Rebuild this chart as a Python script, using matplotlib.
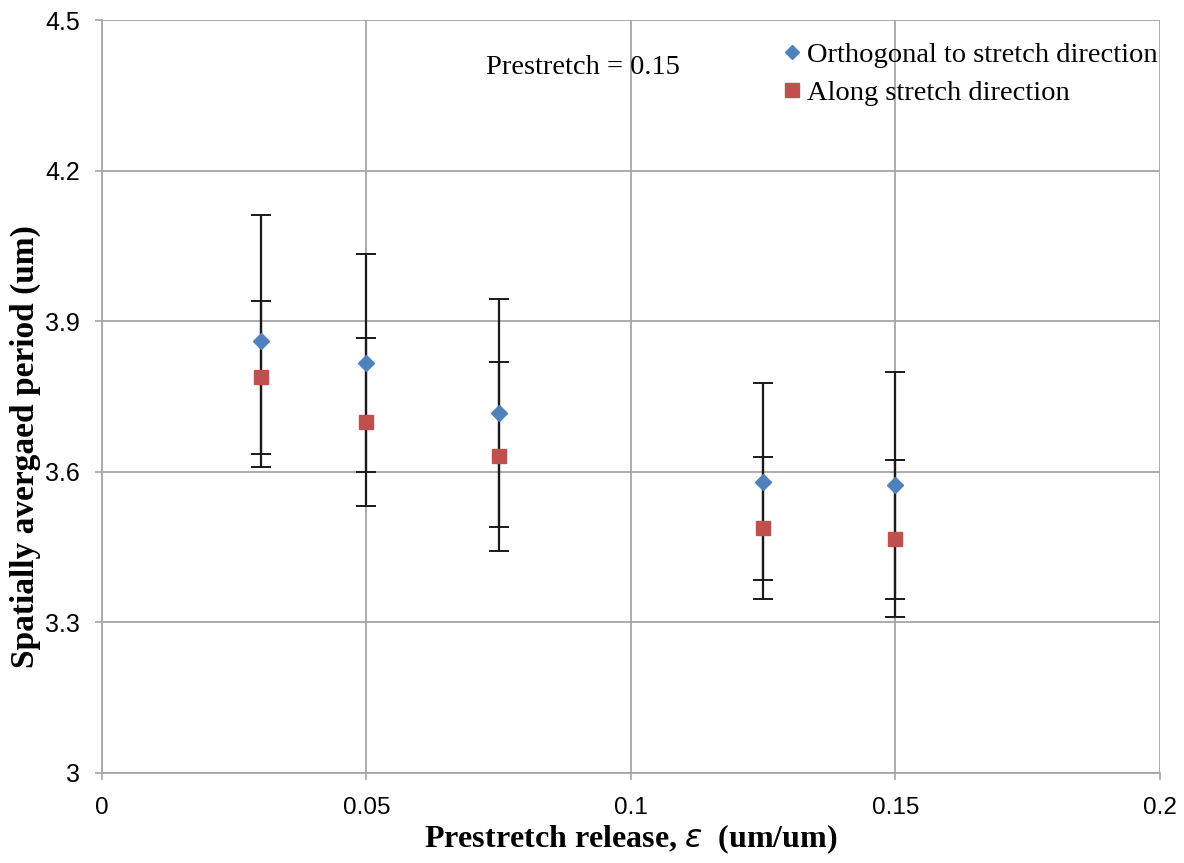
import matplotlib.pyplot as plt
from matplotlib.lines import Line2D

# prestretch release values (um/um)
release = [0.03, 0.05, 0.075, 0.125, 0.15]

# orthogonal to stretch direction
ortho_mean = [3.861, 3.816, 3.717, 3.580, 3.573]
ortho_err = [0.251, 0.217, 0.227, 0.196, 0.226]

# along stretch direction
along_mean = [3.788, 3.699, 3.631, 3.488, 3.467]
along_err = [0.153, 0.168, 0.188, 0.142, 0.156]

xticks = [0, 0.05, 0.1, 0.15, 0.2]
xtick_labels = ['0', '0.05', '0.1', '0.15', '0.2']
yticks = [3.0, 3.3, 3.6, 3.9, 4.2, 4.5]
ytick_labels = ['3', '3.3', '3.6', '3.9', '4.2', '4.5']

blue = '#4F81BD'
red = '#C0504D'
grid_c = '#A6A6A6'

fig = plt.figure(figsize=(11.84, 8.63), dpi=100)
ax = fig.add_axes([0.0861, 0.1043, 0.8936, 0.8725])

# error bars first, markers on top
for m, e in [(ortho_mean, ortho_err), (along_mean, along_err)]:
    ax.errorbar(release, m, yerr=e, fmt='none', ecolor='#1a1a1a',
                elinewidth=1.6, capsize=7, capthick=1.4, zorder=3)

ax.plot(release, ortho_mean, 'D', color=blue, ms=8, mec=blue, zorder=5)
ax.plot(release, along_mean, 's', color=red, ms=10, mec=red, zorder=4)

ax.set_xlim(0, 0.2)
ax.set_ylim(3.0, 4.5)
ax.set_xticks(xticks)
ax.set_xticklabels(xtick_labels, family='Liberation Sans', fontsize=17.5)
ax.set_yticks(yticks)
ax.set_yticklabels(ytick_labels, family='Liberation Sans', fontsize=18)
ax.tick_params(colors=grid_c, labelcolor='black', length=5, width=1.2)
ax.tick_params(axis='x', pad=12)
ax.tick_params(axis='y', pad=11)

ax.grid(True, color=grid_c, linewidth=1.3, zorder=0)
ax.set_axisbelow(True)
for side in ['top', 'right']:
    ax.spines[side].set_visible(False)
for side in ['left', 'bottom']:
    ax.spines[side].set_color(grid_c)
    ax.spines[side].set_linewidth(1.3)

ax.set_xlabel('Prestretch release, $\\varepsilon$  (um/um)', family='Liberation Serif',
              fontweight='bold', fontsize=23)
ax.set_ylabel('Spatially avergaed period (um)', family='Liberation Serif',
              fontweight='bold', fontsize=24)
ax.xaxis.set_label_coords(0.5, -0.066)
ax.yaxis.set_label_coords(-0.058, 0.433)

ax.text(0.0726, 4.406, 'Prestretch = 0.15', family='Liberation Serif', fontsize=20.5,
        va='center', ha='left')

handles = [Line2D([], [], ls='none', marker='D', color=blue, ms=7),
           Line2D([], [], ls='none', marker='s', color=red, ms=10)]
ax.legend(handles, ['Orthogonal to stretch direction', 'Along stretch direction'],
          loc='upper right', bbox_to_anchor=(1.0115, 0.99), frameon=False,
          prop={'family': 'Liberation Serif', 'size': 20.5},
          handlelength=0.6, handletextpad=0.25, labelspacing=0.45, borderaxespad=0.1)

fig.savefig('out.png', dpi=100)
